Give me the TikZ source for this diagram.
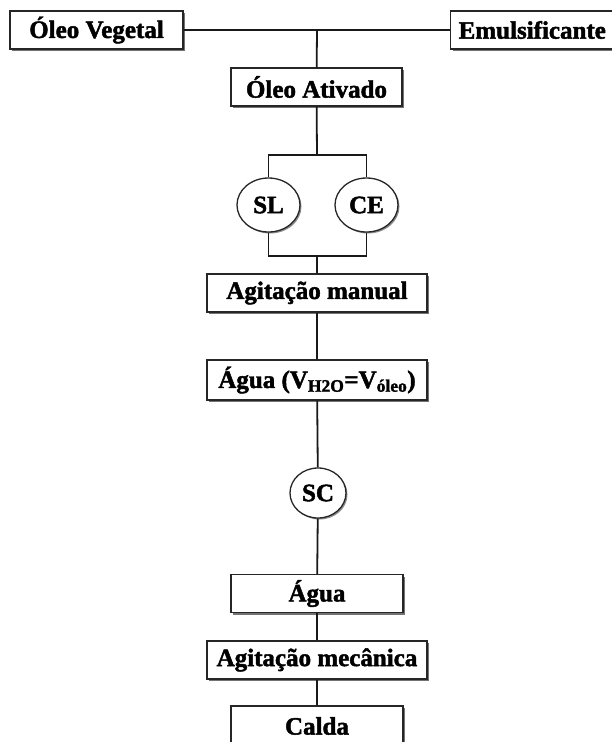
\documentclass[tikz,border=0pt]{standalone}
\usepackage{fontspec}
\setmainfont{Liberation Serif}[BoldFeatures={FakeBold=1.8}]
\usetikzlibrary{shapes.geometric,shadows,positioning}

\tikzset{
  etapa/.style={draw=black!85, line width=1.3pt, fill=white, inner xsep=8pt,
    minimum height=38pt, font=\fontsize{25}{28}\selectfont\bfseries,
    drop shadow={shadow xshift=2pt, shadow yshift=-2pt, fill=black!55, opacity=1}},
  metodo/.style={ellipse, draw=black!85, line width=1.3pt, fill=white, inner sep=0pt,
    font=\fontsize{25}{28}\selectfont\bfseries,
    drop shadow={shadow xshift=1.5pt, shadow yshift=-1.5pt, fill=black!45, opacity=1}},
  liga/.style={line width=1.8pt, draw=black!90}
}

\begin{document}
\begin{tikzpicture}[x=1pt,y=-1pt]
\useasboundingbox (0,0) rectangle (612,742);
\fill[white] (0,0) rectangle (612,742);
\clip (0,0) rectangle (612,742);

% entradas
\node[etapa, minimum width=173pt] (vegetal) at (96.5,30) {Óleo Vegetal};
\node[etapa, anchor=west] (emuls) at (450,30) {Emulsificante};
\node[etapa, minimum width=171pt] (ativado) at (316.5,87) {Óleo Ativado};

% metodos
\node[metodo, minimum width=63pt, minimum height=54pt] (sl) at (268.5,205) {SL};
\node[metodo, minimum width=63pt, minimum height=54pt] (ce) at (366.5,205) {CE};

\node[etapa, minimum width=220pt] (manual) at (317,293) {Agitação manual};
\node[etapa, minimum width=220pt, minimum height=40pt] (aguav) at (317,380)
  {Água (V\textsubscript{H2O}=V\textsubscript{óleo})};
\node[metodo, minimum width=56pt, minimum height=50pt] (sc) at (318,493) {SC};
\node[etapa, minimum width=172pt] (agua) at (317,593.5) {Água};
\node[etapa, minimum width=220pt] (mecanica) at (317,660) {Agitação mecânica};
\node[etapa, minimum width=172pt, minimum height=40pt] (calda) at (317,726) {Calda};

\coordinate (j0) at (317,30);
\coordinate (j1) at (317,155);
\coordinate (j2) at (317,256);

\draw[liga] (vegetal) -- (emuls);
\draw[liga] (j0) -- (ativado);
\draw[liga] (ativado) -- (j1);
\draw[liga] (sl.north) |- (j1) -| (ce.north);
\draw[liga] (sl.south) |- (j2) -| (ce.south);
\draw[liga] (j2) -- (manual);
\draw[liga] (manual) -- (aguav);
\draw[liga] (aguav) -- (sc);
\draw[liga] (sc) -- (agua);
\draw[liga] (agua) -- (mecanica);
\draw[liga] (mecanica) -- (calda);
\end{tikzpicture}
\end{document}
